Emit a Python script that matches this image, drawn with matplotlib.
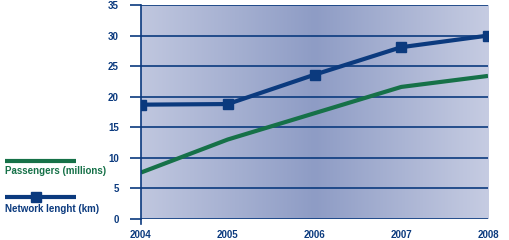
import matplotlib
matplotlib.use("Agg")
import matplotlib.pyplot as plt
import numpy as np
from matplotlib.lines import Line2D
from matplotlib.colors import LinearSegmentedColormap

years = [2004, 2005, 2006, 2007, 2008]
passengers = [7.6, 13.0, 17.3, 21.6, 23.4]
network = [18.7, 18.8, 23.6, 28.1, 30.0]
yticks = [0, 5, 10, 15, 20, 25, 30, 35]

navy = "#0b3a7e"
green = "#167148"

plt.rcParams['font.family'] = ['Liberation Sans', 'DejaVu Sans']

fig = plt.figure(figsize=(5.09, 2.40), dpi=100)
ax = fig.add_axes([141/509, 1-219/240, (488-141)/509, (219-5)/240])

cmap = LinearSegmentedColormap.from_list("bg", [(0, "#c0c7df"), (0.5, "#8e9cc5"), (1.0, "#c6cce2")])
grad = np.linspace(0, 1, 256).reshape(1, -1)
ax.imshow(grad, cmap=cmap, aspect="auto", extent=[0, 1, 0, 1], transform=ax.transAxes, zorder=0)

ax.set_xlim(2004, 2008)
ax.set_ylim(0, 35)
for y in yticks:
    ax.axhline(y, color=navy, lw=1.2, zorder=1)

ax.plot(years, passengers, color=green, lw=3.0, zorder=3, solid_capstyle='butt')
ax.plot(years, network, color=navy, lw=3.0, marker='s', ms=7, zorder=4, solid_capstyle='butt')

ax.set_xticks(years)
ax.set_yticks(yticks)
ax.tick_params(axis='y', direction='out', length=8, width=1.2, color=navy, labelcolor=navy, labelsize=7, pad=8)
ax.tick_params(axis='x', direction='out', length=0, labelcolor=navy, labelsize=7, pad=8)
for lab in ax.get_xticklabels() + ax.get_yticklabels():
    lab.set_fontweight('bold')
for s in ['top', 'right', 'bottom']:
    ax.spines[s].set_visible(False)
ax.spines['left'].set_color(navy)
ax.spines['left'].set_linewidth(1.2)
ax.spines['left'].set_zorder(5)
ax.plot([2004, 2004], [0, -0.8], color=navy, lw=1.2, clip_on=False)

# legend
fig.add_artist(Line2D([5/509, 76/509], [1-160.5/240]*2, color=green, lw=3.0, solid_capstyle='butt'))
fig.text(5/509, 1-171/240, "Passengers (millions)", color=green, fontsize=7, fontweight='bold', va='center', ha='left')
fig.add_artist(Line2D([5/509, 76/509], [1-197/240]*2, color=navy, lw=3.0, solid_capstyle='butt'))
fig.add_artist(Line2D([36/509], [1-197/240], color=navy, marker='s', ms=7, lw=0))
fig.text(5/509, 1-209/240, "Network lenght (km)", color=navy, fontsize=7, fontweight='bold', va='center', ha='left')

fig.savefig("out.png", dpi=100)
